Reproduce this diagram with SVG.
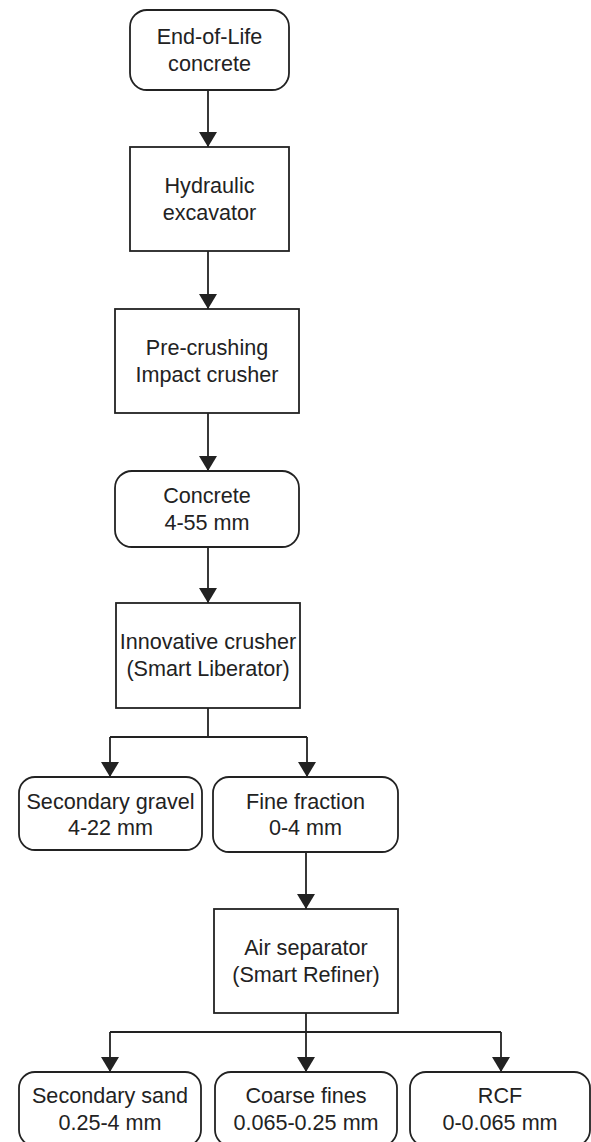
<svg xmlns="http://www.w3.org/2000/svg" width="591" height="1142" viewBox="0 0 591 1142">
<style>
.box{fill:#fff;stroke:#222;stroke-width:1.8}
.t{font-family:"Liberation Sans",Arial,sans-serif;font-size:21.6px;fill:#222;text-anchor:middle}
.c{fill:none;stroke:#222;stroke-width:1.8}
</style>
<defs>
<marker id="ah" viewBox="0 0 15 18" refX="15" refY="9" markerWidth="15" markerHeight="18" markerUnits="userSpaceOnUse" orient="auto">
<path d="M0,0 L15,9 L0,18 z" fill="#222"/>
</marker>
</defs>
<rect width="591" height="1142" fill="#fff"/>
<g id="connectors">
<path class="c" d="M208,90 V147" marker-end="url(#ah)"/>
<path class="c" d="M208,251 V309" marker-end="url(#ah)"/>
<path class="c" d="M208,413 V471" marker-end="url(#ah)"/>
<path class="c" d="M208,547 V603" marker-end="url(#ah)"/>
<path class="c" d="M208,708 V737"/>
<path class="c" d="M110,737 H307"/>
<path class="c" d="M110,737 V777" marker-end="url(#ah)"/>
<path class="c" d="M307,737 V777" marker-end="url(#ah)"/>
<path class="c" d="M306,852 V909" marker-end="url(#ah)"/>
<path class="c" d="M306,1013 V1072" marker-end="url(#ah)"/>
<path class="c" d="M110,1032 H501"/>
<path class="c" d="M110,1032 V1072" marker-end="url(#ah)"/>
<path class="c" d="M501,1032 V1072" marker-end="url(#ah)"/>
</g>
<g id="n1"><rect class="box" x="130" y="10" width="159" height="80" rx="17"/>
<text class="t" x="209.5" y="44">End-of-Life</text><text class="t" x="209.5" y="71">concrete</text></g>
<g id="n2"><rect class="box" x="130" y="147" width="159" height="104"/>
<text class="t" x="209.5" y="193">Hydraulic</text><text class="t" x="209.5" y="220">excavator</text></g>
<g id="n3"><rect class="box" x="115" y="309" width="184" height="104"/>
<text class="t" x="207" y="355">Pre-crushing</text><text class="t" x="207" y="382">Impact crusher</text></g>
<g id="n4"><rect class="box" x="115" y="471" width="184" height="76" rx="17"/>
<text class="t" x="207" y="503">Concrete</text><text class="t" x="207" y="530">4-55 mm</text></g>
<g id="n5"><rect class="box" x="116" y="603" width="184" height="105"/>
<text class="t" x="208" y="649">Innovative crusher</text><text class="t" x="208" y="676">(Smart Liberator)</text></g>
<g id="n6"><rect class="box" x="19" y="777" width="183" height="73" rx="16"/>
<text class="t" x="110.5" y="809">Secondary gravel</text><text class="t" x="110.5" y="835">4-22 mm</text></g>
<g id="n7"><rect class="box" x="213" y="777" width="185" height="75" rx="16"/>
<text class="t" x="305.5" y="809">Fine fraction</text><text class="t" x="305.5" y="835">0-4 mm</text></g>
<g id="n8"><rect class="box" x="214" y="909" width="184" height="104"/>
<text class="t" x="306" y="955">Air separator</text><text class="t" x="306" y="982">(Smart Refiner)</text></g>
<g id="n9"><rect class="box" x="19" y="1072" width="182" height="74" rx="16"/>
<text class="t" x="110" y="1103">Secondary sand</text><text class="t" x="110" y="1130">0.25-4 mm</text></g>
<g id="n10"><rect class="box" x="215" y="1072" width="182" height="74" rx="16"/>
<text class="t" x="306" y="1103">Coarse fines</text><text class="t" x="306" y="1130">0.065-0.25 mm</text></g>
<g id="n11"><rect class="box" x="410" y="1072" width="180" height="74" rx="16"/>
<text class="t" x="500" y="1103">RCF</text><text class="t" x="500" y="1130">0-0.065 mm</text></g>
</svg>
